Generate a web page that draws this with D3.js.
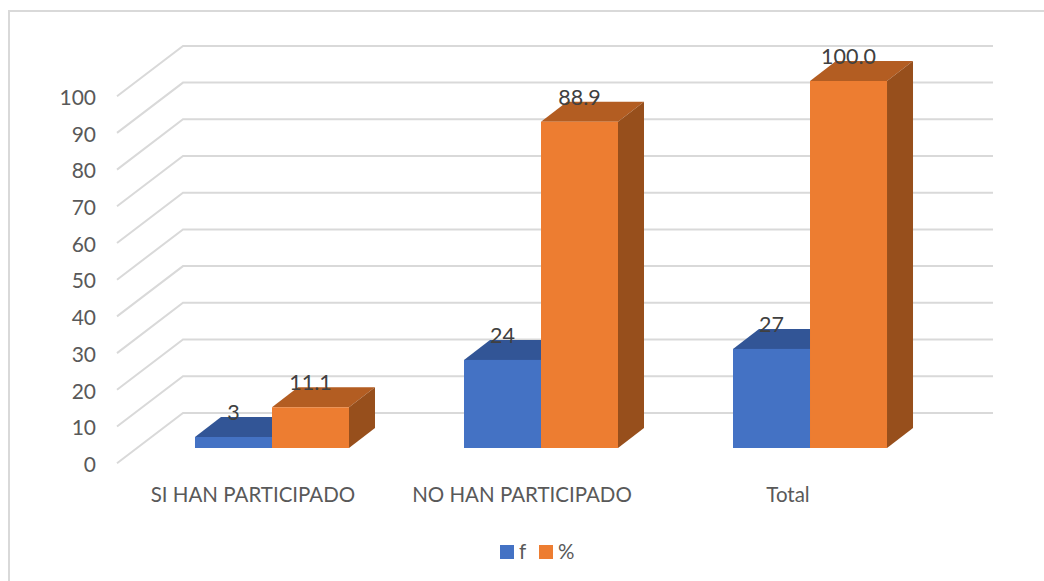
<!DOCTYPE html>
<html>
<head>
<meta charset="utf-8">
<script src="https://cdn.jsdelivr.net/npm/d3@7"></script>
<style>
body { margin:0; background:#fff; }
text { font-family:Lato,"Open Sans",sans-serif; fill:#595959; }
</style>
</head>
<body>
<svg id="chart"></svg>
<script>
var categories = ["SI HAN PARTICIPADO","NO HAN PARTICIPADO","Total"];
var seriesNames = ["f","%"];
var fValues = [3,24,27];
var pctValues = [11.1,88.9,100];
var fLabels = ["3","24","27"];
var pctLabels = ["11.1","88.9","100.0"];
var yTicks = [0,10,20,30,40,50,60,70,80,90,100];

var screen = {width:1044, height:581};
var svg = d3.select("#chart")
    .attr("width",screen.width)
    .attr("height",screen.height)
    .style("display","block");

//chart border, only top and left are in the picture
svg.append("path")
    .attr("d","M1044,11H9V581")
    .attr("fill","none")
    .attr("stroke","#d9d9d9")
    .attr("stroke-width",2);

//3d depth of the bars and of the walls
var barDepth = {x:26, y:-20};
var wallDepth = {x:66, y:-50.3};

//front plane scales
var yScale = d3.scaleLinear().domain([0,100]).range([448,81]);
var xScale = d3.scaleBand().domain(categories)
    .range([137.5,944.5])
    .paddingInner(0.4275)
    .paddingOuter(0.2137);
var xSeries = d3.scaleBand().domain(seriesNames)
    .range([0,xScale.bandwidth()]);

//the axis sits in front of the floor
var axisY = function(v){ return yScale(v)+15.2; };
var wallLeft = 117, wallRight = 993;

var grid = svg.append("g").attr("fill","none")
    .attr("stroke","#d9d9d9").attr("stroke-width",2);
grid.selectAll("path")
    .data(yTicks)
    .enter()
    .append("path")
    .attr("d",function(v){
        var p = d3.path();
        p.moveTo(wallLeft,axisY(v));
        p.lineTo(wallLeft+wallDepth.x,axisY(v)+wallDepth.y);
        p.lineTo(wallRight,axisY(v)+wallDepth.y);
        return p.toString();
    });

//y axis labels
var yAxisScale = d3.scaleLinear().domain([0,100]).range([axisY(0)+1.5,axisY(100)+1.5]);
var yAxis = svg.append("g")
    .attr("transform","translate(96,0)")
    .call(d3.axisLeft(yAxisScale).tickValues(yTicks).tickSize(0).tickPadding(0));
yAxis.select(".domain").remove();
yAxis.selectAll("text").style("font-family","Lato").style("font-size","21px").attr("fill","#595959");

var colors = {
    "f":{front:"#4472c4", top:"#325596", side:"#2a4a82"},
    "%":{front:"#ed7d31", top:"#b35d22", side:"#974f1c"}
};
var series = [
    {name:"f", values:fValues, labels:fLabels},
    {name:"%", values:pctValues, labels:pctLabels}
];

var drawBars = function(s){
    var g = svg.append("g").classed("series",true);
    var c = colors[s.name];
    categories.forEach(function(cat,i){
        var x0 = xScale(cat)+xSeries(s.name);
        var x1 = x0+xSeries.bandwidth();
        var yTop = yScale(s.values[i]);
        var yBase = yScale(0);
        var top = d3.path();
        top.moveTo(x0,yTop);
        top.lineTo(x0+barDepth.x,yTop+barDepth.y);
        top.lineTo(x1+barDepth.x,yTop+barDepth.y);
        top.lineTo(x1,yTop);
        top.closePath();
        g.append("path").attr("d",top.toString()).attr("fill",c.top);
        var side = d3.path();
        side.moveTo(x1,yTop);
        side.lineTo(x1+barDepth.x,yTop+barDepth.y);
        side.lineTo(x1+barDepth.x,yBase+barDepth.y);
        side.lineTo(x1,yBase);
        side.closePath();
        g.append("path").attr("d",side.toString()).attr("fill",c.side);
        g.append("rect")
            .attr("x",x0).attr("y",yTop)
            .attr("width",x1-x0).attr("height",yBase-yTop)
            .attr("fill",c.front);
    });
};
series.forEach(drawBars);

//data labels go on top of every bar
series.forEach(function(s){
    svg.append("g").selectAll("text")
        .data(categories)
        .enter()
        .append("text")
        .text(function(cat,i){ return s.labels[i]; })
        .attr("text-anchor","middle")
        .attr("x",function(cat){ return xScale(cat)+xSeries(s.name)+xSeries.bandwidth()/2; })
        .attr("y",function(cat,i){ return yScale(s.values[i])-17; })
        .style("font-size","21.5px")
        .style("fill","#404040");
});

//category labels
svg.append("g").selectAll("text")
    .data(categories)
    .enter()
    .append("text")
    .text(function(d){ return d; })
    .attr("text-anchor","middle")
    .attr("x",function(d,i){ return [253,522,788][i]; })
    .attr("y",502)
    .style("font-size","20.5px");

//legend
var legendX = d3.scaleOrdinal().domain(seriesNames).range([500,539]);
var legend = svg.append("g");
legend.selectAll("rect")
    .data(seriesNames)
    .enter()
    .append("rect")
    .attr("x",function(d){ return legendX(d); })
    .attr("y",545)
    .attr("width",14).attr("height",14)
    .attr("fill",function(d){ return colors[d].front; });
legend.selectAll("text")
    .data(seriesNames)
    .enter()
    .append("text")
    .text(function(d){ return d; })
    .attr("x",function(d){ return legendX(d)+19; })
    .attr("y",559)
    .style("font-size","20.5px");
</script>
</body>
</html>
